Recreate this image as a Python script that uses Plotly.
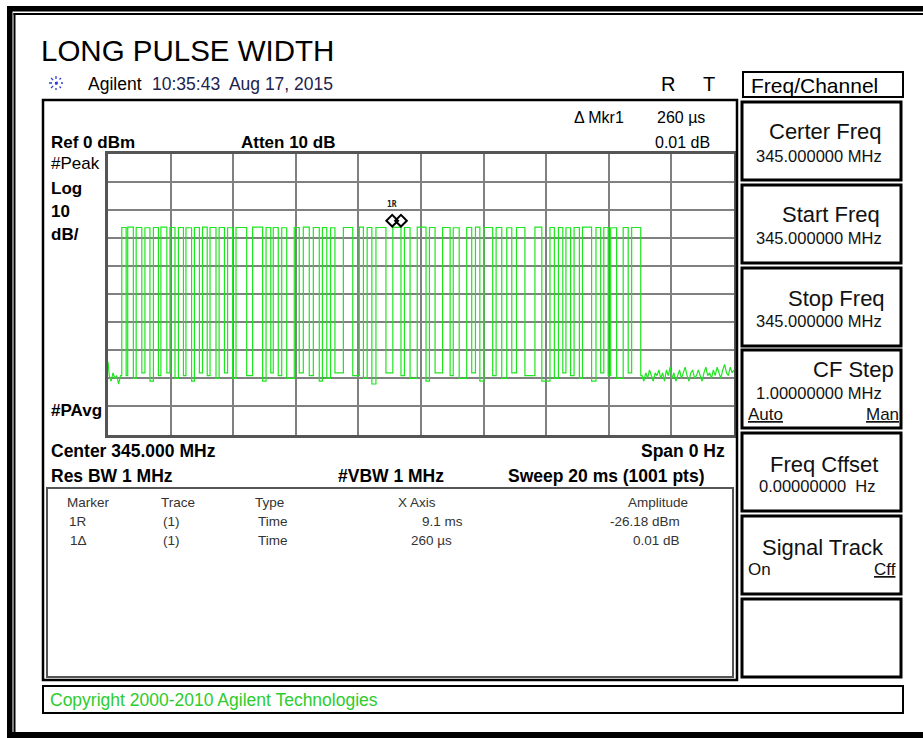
import plotly.graph_objects as go

W, H = 923, 738


def X(px):
    return px / W


def Y(py):
    return 1 - py / H


# ---------------- data ----------------
SWEEP_MS = 20
REF_DBM = 0
DB_PER_DIV = 10

pulse_start_ms = [0.44, 0.63, 0.90, 1.18, 1.45, 1.69, 1.98, 2.25, 2.49, 2.76,
                  3.02, 3.26, 3.55, 3.82, 4.09, 4.62, 5.05, 5.28, 5.55, 5.95,
                  6.24, 6.56, 6.85, 7.11, 7.52, 8.03, 8.28, 8.56, 9.10, 9.47,
                  9.88, 10.27, 10.69, 11.03, 11.46, 11.74, 12.01, 12.40, 12.74, 13.05,
                  13.64, 14.12, 14.39, 14.63, 14.89, 15.16, 15.59, 15.84, 16.06, 16.46,
                  16.73]
pulse_end_ms = [0.58, 0.81, 1.08, 1.34, 1.61, 1.88, 2.14, 2.41, 2.67, 2.92,
                3.17, 3.45, 3.72, 3.98, 4.43, 4.94, 5.20, 5.44, 5.71, 6.11,
                6.43, 6.75, 6.99, 7.25, 7.82, 8.16, 8.43, 8.88, 9.36, 9.65,
                10.16, 10.45, 10.93, 11.22, 11.62, 11.88, 12.29, 12.58, 12.90, 13.32,
                13.86, 14.26, 14.53, 14.78, 15.06, 15.45, 15.74, 15.98, 16.25, 16.62,
                17.02]
pulse_top_dbm = [
    -26.2, -26.1, -26.2, -26.3, -26.2, -26.1, -26.2, -26.2, -26.3, -26.2,
    -26.1, -26.2, -26.2, -26.3, -26.2, -26.1, -26.2, -26.2, -26.3, -26.2,
    -26.1, -26.2, -26.2, -26.3, -26.2, -26.1, -26.2, -26.2, -26.18, -26.2,
    -26.1, -26.2, -26.2, -26.3, -26.2, -26.1, -26.2, -26.2, -26.3, -26.2,
    -26.1, -26.2, -26.2, -26.3, -26.2, -26.1, -26.2, -26.2, -26.3, -26.2,
    -26.2]
gap_floor_dbm = [-79, -80, -78, -81, -79, -78, -80, -79, -81, -78,
                 -79, -80, -78, -80, -79, -81, -78, -79, -80, -78,
                 -79, -81, -80, -78, -79, -80, -82, -78, -79, -80,
                 -81, -78, -79, -80, -78, -81, -79, -80, -78, -79,
                 -81, -80, -78, -79, -80, -81, -78, -79, -80, -78]

lead_ms = [0.0, 0.04, 0.10, 0.16, 0.22, 0.28, 0.34, 0.40]
lead_dbm = [-74, -79, -81, -78, -80, -79, -82, -79]

tail_ms = [17.06, 17.12, 17.18, 17.24, 17.30, 17.36, 17.42, 17.48, 17.54, 17.60,
           17.66, 17.72, 17.78, 17.84, 17.90, 17.96, 18.02, 18.08, 18.14, 18.20,
           18.26, 18.32, 18.38, 18.44, 18.50, 18.56, 18.62, 18.68, 18.74, 18.80,
           18.86, 18.92, 18.98, 19.04, 19.10, 19.16, 19.22, 19.28, 19.34, 19.40,
           19.46, 19.52, 19.58, 19.64, 19.70, 19.76, 19.82, 19.88, 19.94, 20.00]
tail_dbm = [-79, -81, -78, -80, -77, -79, -81, -78, -79, -77,
            -80, -78, -81, -77, -79, -76, -80, -78, -81, -79,
            -77, -80, -78, -76, -79, -81, -78, -77, -80, -79,
            -77, -79, -81, -78, -76, -79, -78, -80, -77, -79,
            -76, -78, -80, -77, -75, -78, -79, -76, -78, -77]

marker_ms = [9.08, 9.36]
marker_dbm = [-26.18, -26.17]

# ---------------- build stepped trace from pulse edges ----------------
tx = list(lead_ms)
ty = list(lead_dbm)
n = len(pulse_start_ms)
for i in range(n):
    before = lead_dbm[-1] if i == 0 else gap_floor_dbm[i - 1]
    after = gap_floor_dbm[i] if i < n - 1 else tail_dbm[0]
    s, e, top = pulse_start_ms[i], pulse_end_ms[i], pulse_top_dbm[i]
    tx += [s, s, e, e]
    ty += [before, top, top, after]
tx += tail_ms
ty += tail_dbm

fig = go.Figure()
fig.add_trace(go.Scatter(x=tx, y=ty, mode="lines",
                         line=dict(color="#1ee61e", width=1.2),
                         hoverinfo="skip"))
fig.add_trace(go.Scatter(x=marker_ms, y=[v + 2.4 for v in marker_dbm], mode="markers",
                         marker=dict(symbol="diamond-open", size=9, color="black",
                                     line=dict(width=2, color="black")),
                         hoverinfo="skip"))

FONT = "Liberation Sans, Arial, sans-serif"
ann = []


def txt(s, px, py, size=15, anchor="left", color="#000", bold=False):
    if bold:
        s = "<b>" + s + "</b>"
    ann.append(dict(text=s, x=X(px), y=Y(py), xref="paper", yref="paper",
                    xanchor=anchor, yanchor="middle", showarrow=False,
                    font=dict(family=FONT, size=size, color=color)))


# marker label above diamond
ann.append(dict(text="<b>1R</b>", x=marker_ms[0], y=marker_dbm[0], xref="x", yref="y",
                yshift=23, showarrow=False,
                font=dict(family="DejaVu Sans Mono, monospace", size=8, color="#222")))

txt("LONG PULSE WIDTH", 39, 51, size=29.5)
txt("Agilent", 86, 84, size=17.5)
txt("10:35:43  Aug 17, 2015", 150, 84, size=17.5, color="#22224f")
txt("R", 668, 84, size=20, anchor="center")
txt("T", 709, 84, size=20, anchor="center")
txt("Freq/Channel", 749, 85, size=21)

txt("\u0394 Mkr1", 572, 117, size=16)
txt("260 \u00b5s", 655, 117, size=16)
txt("0.01 dB", 653, 142, size=16)
txt("Ref 0 dBm", 49, 142, size=17, bold=True)
txt("Atten 10 dB", 239, 142, size=17, bold=True)
txt("#Peak", 49, 163, size=17)
txt("Log", 49, 188, size=17, bold=True)
txt("10", 49, 211, size=17, bold=True)
txt("dB/", 49, 234, size=17, bold=True)
txt("#PAvg", 49, 410, size=17, bold=True)
txt("Center 345.000 MHz", 49, 451, size=17.5, bold=True)
txt("Span 0 Hz", 727, 451, size=17.5, anchor="right", bold=True)
txt("Res BW 1 MHz", 49, 476, size=17.5, bold=True)
txt("#VBW 1 MHz", 336, 476, size=17.5, bold=True)
txt("Sweep 20 ms (1001 pts)", 706, 476, size=17.5, anchor="right", bold=True)

tc = "#333"
ts = 13.5
txt("Marker", 88, 502, size=ts, anchor="center", color=tc)
txt("Trace", 178, 502, size=ts, anchor="center", color=tc)
txt("Type", 269, 502, size=ts, anchor="center", color=tc)
txt("X Axis", 417, 502, size=ts, anchor="center", color=tc)
txt("Amplitude", 658, 502, size=ts, anchor="center", color=tc)
txt("1R", 78, 521, size=ts, anchor="center", color=tc)
txt("(1)", 171, 521, size=ts, anchor="center", color=tc)
txt("Time", 256, 521, size=ts, color=tc)
txt("9.1 ms", 465, 521, size=ts, anchor="right", color=tc)
txt("-26.18 dBm", 682, 521, size=ts, anchor="right", color=tc)
txt("1\u0394", 78, 540, size=ts, anchor="center", color=tc)
txt("(1)", 171, 540, size=ts, anchor="center", color=tc)
txt("Time", 256, 540, size=ts, color=tc)
txt("260 \u00b5s", 454, 540, size=ts, anchor="right", color=tc)
txt("0.01 dB", 682, 540, size=ts, anchor="right", color=tc)

txt("Copyright 2000-2010 Agilent Technologies", 48, 700, size=17.5, color="#2ecc2e")

# softkeys
sk = "#111"
tsz = 22
vsz = 16.5
txt("Certer Freq", 883, 132, size=tsz, anchor="right", color=sk)
txt("345.000000 MHz", 754, 156, size=vsz, color=sk)
txt("Start Freq", 882, 215, size=tsz, anchor="right", color=sk)
txt("345.000000 MHz", 754, 238, size=vsz, color=sk)
txt("Stop Freq", 887, 298, size=tsz, anchor="right", color=sk)
txt("345.000000 MHz", 754, 321, size=vsz, color=sk)
txt("CF Step", 896, 369, size=tsz, anchor="right", color=sk)
txt("1.00000000 MHz", 754, 393, size=vsz, color=sk)
txt("<u>Auto</u>", 746, 414, size=17, color=sk)
txt("<u>Man</u>", 901, 414, size=17, anchor="right", color=sk)
txt("Freq Cffset", 880, 464, size=tsz, anchor="right", color=sk)
txt("0.00000000  Hz", 757, 486, size=vsz, color=sk)
txt("Signal Track", 886, 547, size=tsz, anchor="right", color=sk)
txt("On", 746, 569, size=17, color=sk)
txt("<u>Cff</u>", 898, 569, size=17, anchor="right", color=sk)

shapes = []


def rect(x0, y0, x1, y1, color="black", width=2, fill=None):
    d = dict(type="rect", xref="paper", yref="paper",
             x0=X(x0), x1=X(x1), y0=Y(y1), y1=Y(y0), layer="above")
    if fill:
        d["fillcolor"] = fill
        d["line"] = dict(width=0)
    else:
        d["line"] = dict(color=color, width=width)
    shapes.append(d)


def line(x0, y0, x1, y1, color, width, dash="solid"):
    shapes.append(dict(type="line", xref="paper", yref="paper",
                       x0=X(x0), x1=X(x1), y0=Y(y0), y1=Y(y1),
                       line=dict(color=color, width=width, dash=dash), layer="above"))


# outer frame
rect(7, 6, 12.5, 738, fill="black")
rect(7, 6, 923, 11.5, fill="black")
rect(7, 732, 923, 738, fill="black")
rect(13.5, 13, 15.5, 732, fill="black")
rect(13.5, 13, 923, 15, fill="black")

# screen & table boxes
rect(43, 100, 737, 680, width=2.5)
rect(47, 488, 733, 677, color="#555", width=2)
rect(743, 72, 903, 97, width=2)
for y0 in [102, 185, 268, 350, 433, 516, 599]:
    rect(742, y0, 901, y0 + 78, width=3)
rect(43, 686, 903, 713, width=2)

# Agilent logo (blue starburst)
cx, cy, r = 56, 83, 7
for dx, dy in [(1, 0), (0, 1), (0.71, 0.71), (0.71, -0.71)]:
    line(cx - r * dx, cy - r * dy, cx + r * dx, cy + r * dy, "#2b3fd6", 1.3, "dot")

fig.update_layout(
    width=W, height=H, autosize=False,
    margin=dict(l=0, r=0, t=0, b=0),
    paper_bgcolor="white", plot_bgcolor="white",
    showlegend=False, hovermode=False,
    annotations=ann, shapes=shapes,
    xaxis=dict(domain=[X(108), X(734)], range=[0, SWEEP_MS], dtick=SWEEP_MS / 10,
               showticklabels=False, ticks="", zeroline=False,
               showgrid=True, gridcolor="#808080", gridwidth=2,
               showline=True, mirror=True, linecolor="#555", linewidth=2.5),
    yaxis=dict(domain=[Y(434.5), Y(154)], range=[REF_DBM - 10 * DB_PER_DIV, REF_DBM],
               dtick=DB_PER_DIV,
               showticklabels=False, ticks="", zeroline=False,
               showgrid=True, gridcolor="#808080", gridwidth=2,
               showline=True, mirror=True, linecolor="#555", linewidth=2.5),
)

fig.write_html("out.html", config={"displayModeBar": False},
               post_script="document.body.style.margin='0';document.body.style.overflow='hidden';")
